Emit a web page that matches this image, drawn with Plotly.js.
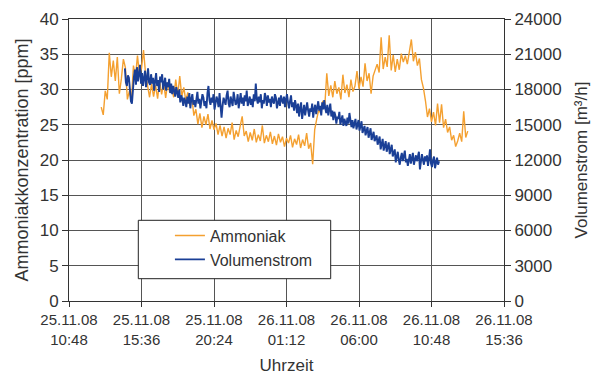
<!DOCTYPE html>
<html>
<head>
<meta charset="utf-8">
<script src="https://cdn.plot.ly/plotly-3.0.1.min.js"></script>
<style>html,body{margin:0;padding:0;background:#fff;}#chart{width:595px;height:377px;}</style>
</head>
<body>
<div id="chart"></div>
<script>
// ---- data ----
const ammoniakStepMin = 8;
const ammoniakStart = '2008-11-25 12:56';
const ammoniakPpm = [
27.5,26.4,29.8,28.6,35.2,31.8,34.1,31.2,34.6,29.4,
31.5,34.3,33.1,28.6,29.8,28.4,33.4,31.7,34.8,32.1,
33.0,35.6,32.3,30.4,28.9,30.8,29.0,30.6,28.7,31.2,
29.3,30.9,28.8,31.0,29.6,30.2,28.9,31.4,29.2,31.9,
29.0,30.3,28.4,29.6,27.7,28.9,26.3,27.2,25.1,26.6,
24.6,26.2,25.0,26.5,24.4,25.6,24.3,25.2,23.6,24.9,
23.4,24.7,23.1,24.5,23.6,25.3,22.9,24.2,23.3,24.8,
26.2,23.4,24.1,22.6,23.9,22.8,24.4,22.5,23.6,22.7,
24.9,22.4,23.5,22.6,24.0,22.3,23.4,22.1,23.7,22.5,
23.3,21.9,23.1,22.4,23.5,21.8,23.0,22.2,23.6,21.7,
22.9,22.0,23.8,21.6,22.4,19.4,24.3,25.8,27.1,26.6,
28.4,27.6,32.3,29.1,30.6,28.9,31.2,29.4,30.3,28.6,
32.1,29.5,30.7,28.9,31.4,29.7,30.5,32.6,30.1,31.8,
30.4,33.7,31.2,32.3,29.4,31.9,32.8,33.6,32.4,37.4,
32.9,34.6,33.2,37.7,32.7,34.9,32.5,34.3,32.8,35.1,
33.9,34.8,33.6,35.2,37.1,34.0,35.3,33.4,34.4,31.4,
30.2,28.4,26.1,27.3,25.4,26.8,24.9,28.0,25.3,27.9,
24.6,25.8,23.9,24.7,22.8,23.5,21.9,22.7,23.8,22.6,
26.9,23.2,24.1
];
const volumenstromStepMin = 4;
const volumenstromStart = '2008-11-25 14:30';
const volumenstromM3h = [
19800,18600,18300,19200,19000,18100,17000,16800,18600,19100,
19700,18400,19900,18700,19300,20100,18500,19400,18300,18900,
19600,18200,19100,19800,18600,18400,19300,18500,19000,17900,
18700,19400,18300,18800,17800,19100,18600,19300,18000,18400,
19000,17900,18600,18200,18900,17700,18500,17600,18300,17900,
17400,18200,17600,17300,18000,16900,17500,17200,16600,17300,
17000,16500,17400,16800,17700,16400,17200,17600,16700,17100,
16500,17500,17800,16800,17200,16400,17000,17600,17300,16600,
17000,16400,17700,18300,17100,16700,17300,16900,17600,16300,
16800,17400,17100,16500,17700,16900,15600,16600,17300,17000,
16700,17500,17900,16800,16500,17400,17000,16600,17800,17300,
16700,16900,17600,16400,17100,17700,16800,17300,16600,17500,
17000,17900,16600,16900,17400,16700,17200,16500,17600,17000,
18500,17200,16800,17400,16900,17600,16400,17100,16800,17700,
17300,16600,17500,16900,17200,16500,17400,17000,16800,17600,
17300,16400,16900,17300,16600,17500,17100,16800,17400,16500,
17200,17600,16900,16400,17000,17500,16500,16900,16200,17100,
16600,16000,16800,15700,16400,16900,15500,16300,16700,15800,
16500,16900,16200,15700,16400,16100,16800,15600,16300,16700,
15900,16500,17000,16200,16600,15800,16900,16300,17100,16400,
16000,16700,15800,16300,16800,15700,16200,15400,16100,15800,
15100,15700,15500,16100,15000,15400,15800,14900,15500,15200,
14900,15600,15100,16000,15300,14800,15400,14700,15100,15500,
14600,15000,15400,14500,14900,15300,14300,14700,14900,14100,
14500,14800,13900,14200,14700,13700,14100,14400,13600,13900,
14100,13300,13700,14000,12900,13400,13800,12800,13200,13600,
12700,13100,13500,12500,12900,13300,12300,12700,12900,11800,
12300,12700,12000,11600,12200,12600,11900,12400,12800,11800,
12100,11500,12000,12500,11700,12200,12600,11600,12100,12400,
11900,12300,12700,11200,11800,12500,12000,11600,12300,11900,
12400,11500,12100,12900,11700,11400,12000,12300,11300,11900,
12200,11600,11900
];
const xTickVals = ['2008-11-25 10:48','2008-11-25 15:36','2008-11-25 20:24','2008-11-26 01:12','2008-11-26 06:00','2008-11-26 10:48','2008-11-26 15:36'];
const xTickText = ['25.11.08<br>10:48','25.11.08<br>15:36','25.11.08<br>20:24','26.11.08<br>01:12','26.11.08<br>06:00','26.11.08<br>10:48','26.11.08<br>15:36'];
const leftTicks = [0,5,10,15,20,25,30,35,40];
const rightTicks = [0,3000,6000,9000,12000,15000,18000,21000,24000];

// ---- build timestamps from start + sampling step ----
function pad(n){return (n<10?'0':'')+n;}
function times(start, n, step){
  const p = start.split(/[- :]/).map(Number);
  const t0 = Date.UTC(p[0], p[1]-1, p[2], p[3], p[4]);
  const out = [];
  for(let i=0;i<n;i++){
    const d = new Date(t0 + i*step*60000);
    out.push(d.getUTCFullYear()+'-'+pad(d.getUTCMonth()+1)+'-'+pad(d.getUTCDate())+' '+pad(d.getUTCHours())+':'+pad(d.getUTCMinutes()));
  }
  return out;
}

const FONT = '"Liberation Sans", Arial, sans-serif';
const TXT = '#333333';
const GRID = '#555555';

const traces = [
  {x: times(ammoniakStart, ammoniakPpm.length, ammoniakStepMin), y: ammoniakPpm, name:'Ammoniak',
   type:'scatter', mode:'lines', line:{color:'#F4A030', width:1.4}, yaxis:'y'},
  {x: times(volumenstromStart, volumenstromM3h.length, volumenstromStepMin), y: volumenstromM3h, name:'Volumenstrom',
   type:'scatter', mode:'lines', line:{color:'#1A3F96', width:1.9}, yaxis:'y2'}
];

const layout = {
  width:595, height:377,
  margin:{l:69, r:91, t:19, b:76},
  paper_bgcolor:'#ffffff', plot_bgcolor:'#ffffff',
  font:{family:FONT, color:TXT, size:16},
  showlegend:true,
  legend:{x:0.232, y:0.292, xanchor:'left', yanchor:'top', bgcolor:'rgba(0,0,0,0)', borderwidth:0,
          font:{family:FONT, size:16, color:TXT}, tracegroupgap:0},
  xaxis:{type:'date', range:['2008-11-25 10:48','2008-11-26 15:36'], tickmode:'array',
         tickvals:xTickVals, ticktext:xTickText, showgrid:true, gridcolor:GRID, gridwidth:1,
         showline:true, linecolor:'#333', linewidth:1, mirror:true, ticks:'outside', ticklen:5, tickcolor:'#333',
         tickfont:{family:FONT, size:15, color:TXT}, zeroline:false,
         title:{text:'Uhrzeit', font:{family:FONT, size:17, color:TXT}, standoff:12}},
  yaxis:{range:[0,40], tickmode:'array', tickvals:leftTicks, showgrid:true, gridcolor:GRID, gridwidth:1,
         showline:true, linecolor:'#333', linewidth:1, ticks:'outside', ticklen:6, tickcolor:'#333',
         tickfont:{family:FONT, size:17, color:TXT}, zeroline:false,
         title:{text:'Ammoniakkonzentration [ppm]', font:{family:FONT, size:18, color:TXT}, standoff:6}},
  yaxis2:{range:[0,24000], overlaying:'y', side:'right', tickmode:'array', tickvals:rightTicks,
          ticktext:rightTicks.map(String),
          showgrid:false, showline:true, linecolor:'#333', linewidth:1, ticks:'outside', ticklen:6, tickcolor:'#333',
          tickfont:{family:FONT, size:17, color:TXT}, zeroline:false,
          title:{text:'Volumenstrom [m³/h]', font:{family:FONT, size:17, color:TXT}, standoff:14}},
  shapes:[{type:'rect', xref:'paper', yref:'paper', x0:(138.3-69)/435, x1:(330.7-69)/435,
           y0:(301-278.7)/282, y1:(301-220.3)/282, line:{color:'#222', width:1}, fillcolor:'#ffffff', layer:'above'}]
};

Plotly.newPlot('chart', traces, layout, {displayModeBar:false, staticPlot:true});
</script>
</body>
</html>
